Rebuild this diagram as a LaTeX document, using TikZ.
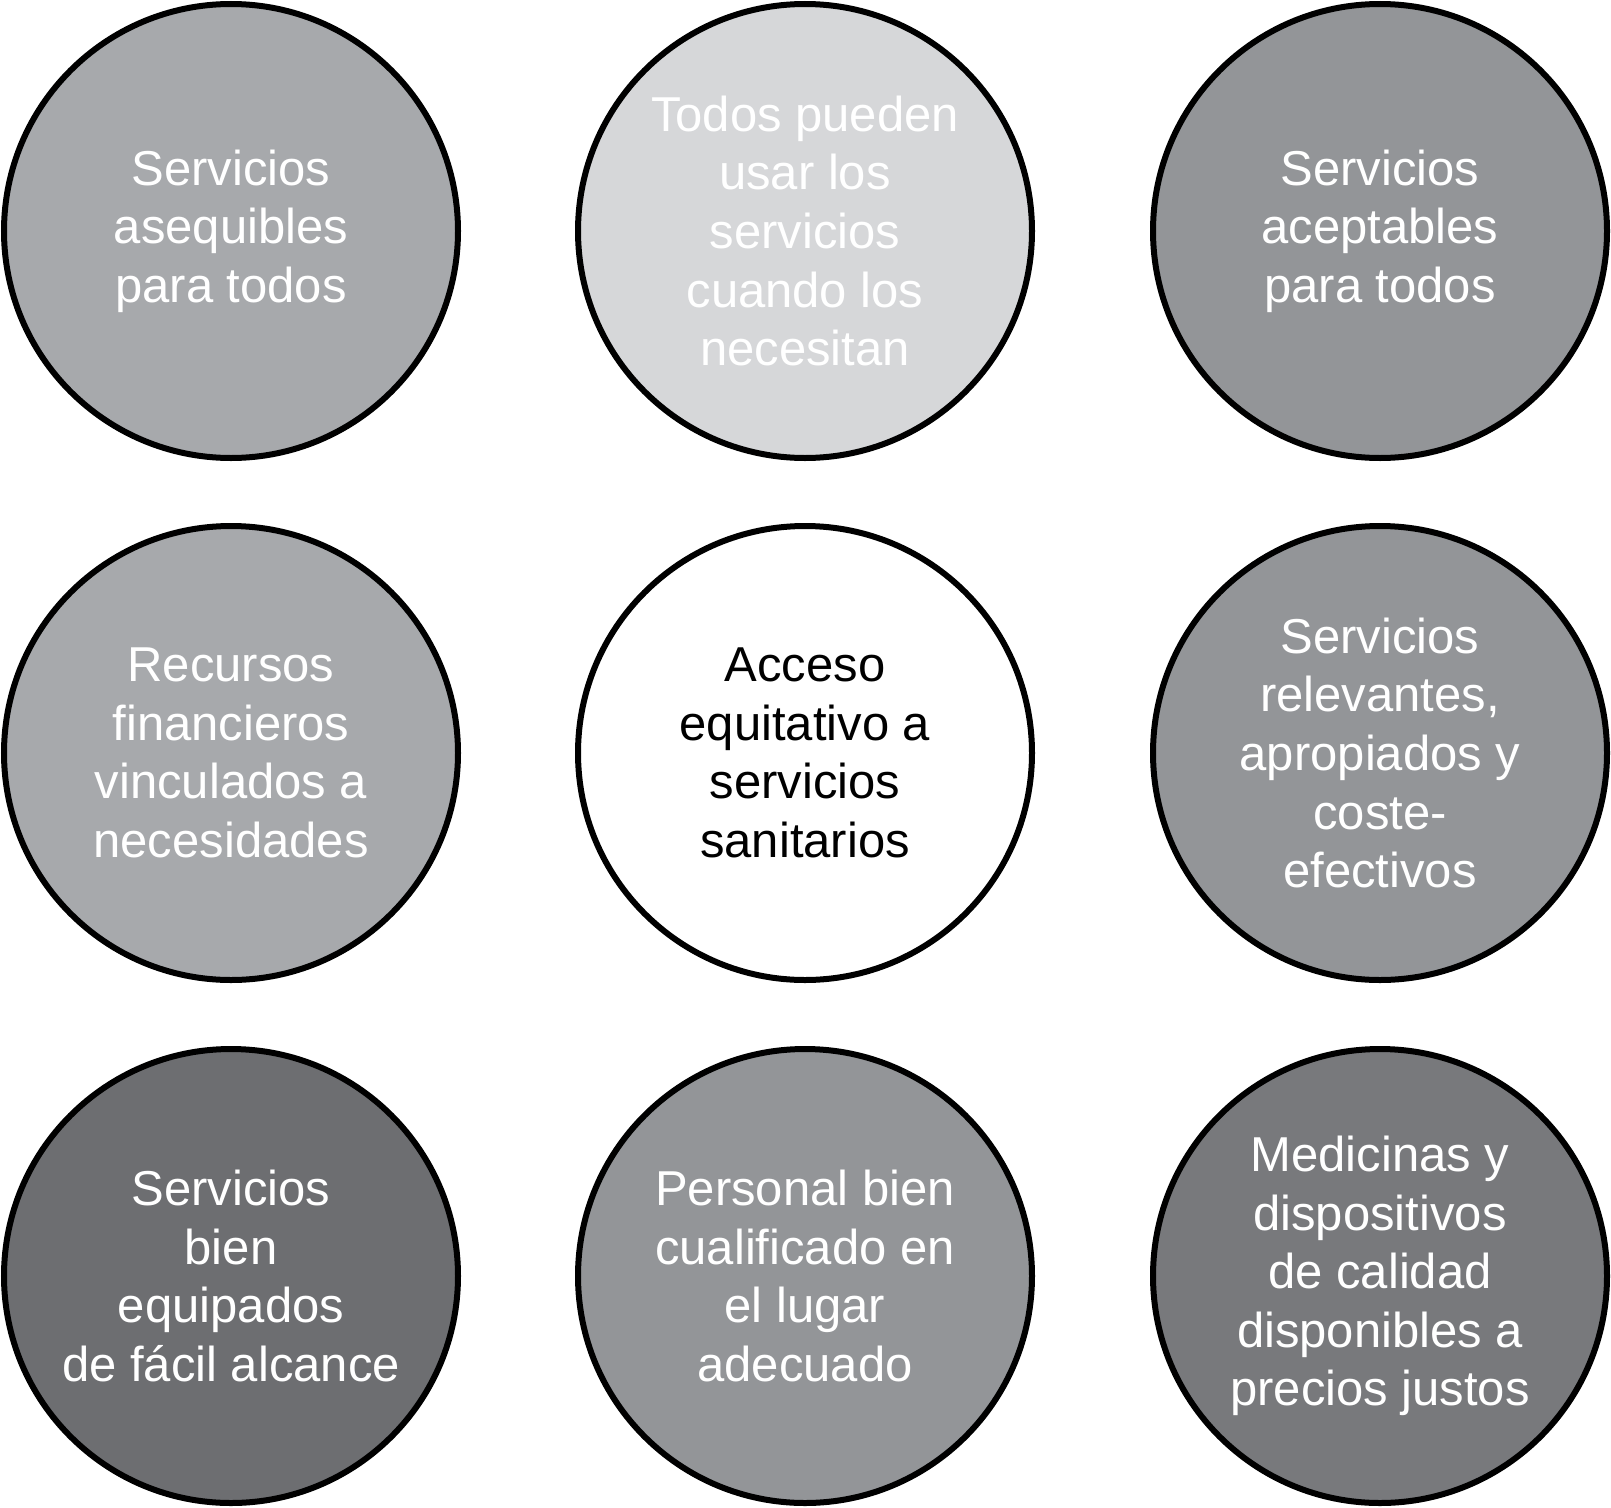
\documentclass[tikz,border=0pt]{standalone}
\usepackage{fontspec}
\setmainfont{Liberation Sans}
\definecolor{gA}{HTML}{A7A9AC}
\definecolor{gB}{HTML}{D6D7D9}
\definecolor{gC}{HTML}{939598}
\definecolor{gD}{HTML}{6D6E71}
\definecolor{gE}{HTML}{78797C}
\tikzset{
  bubble/.style={circle, draw=black, line width=6pt, minimum size=454pt, inner sep=0pt,
    align=center, text=white, font=\fontsize{49}{58.6}\selectfont}
}
\begin{document}
\begin{tikzpicture}[x=1pt,y=-1pt]
\useasboundingbox (0,0) rectangle (1611,1507);
\node[bubble, fill=gA] (a) at (231,231) {Servicios\\asequibles\\para todos};
\node[bubble, fill=gB] (b) at (805,231) {Todos pueden\\usar los\\servicios\\cuando los\\necesitan};
\node[bubble, fill=gC] (c) at (1380,231) {Servicios\\aceptables\\para todos};
\node[bubble, fill=gA] (d) at (231,753) {Recursos\\financieros\\vinculados a\\necesidades};
\node[bubble, fill=white, text=black] (e) at (805,753) {Acceso\\equitativo a\\servicios\\sanitarios};
\node[bubble, fill=gC] (f) at (1380,753) {Servicios\\relevantes,\\apropiados y\\coste-\\efectivos};
\node[bubble, fill=gD] (g) at (231,1276) {Servicios\\bien\\equipados\\de fácil alcance};
\node[bubble, fill=gC] (h) at (805,1276) {Personal bien\\cualificado en\\el lugar\\adecuado};
\node[bubble, fill=gE] (i) at (1380,1276) {Medicinas y\\dispositivos\\de calidad\\disponibles a\\precios justos};
\end{tikzpicture}
\end{document}
